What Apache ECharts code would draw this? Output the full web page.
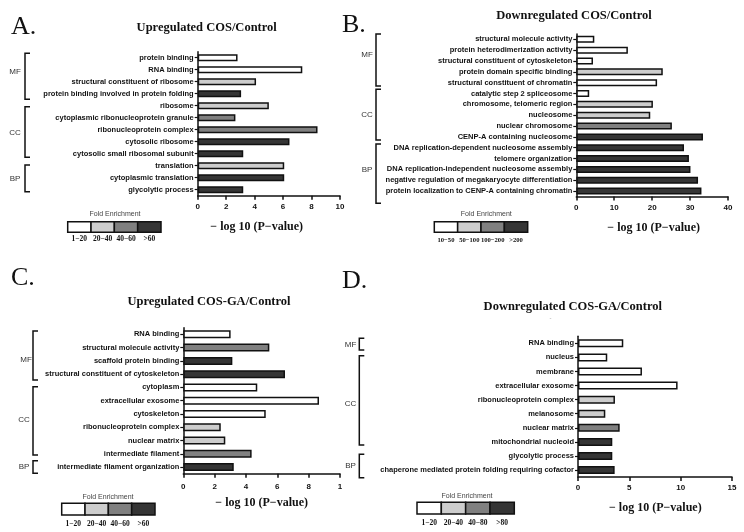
<!DOCTYPE html>
<html>
<head>
<meta charset="utf-8">
<script src="https://cdn.jsdelivr.net/npm/echarts@6/dist/echarts.min.js"></script>
<style>
html,body{margin:0;padding:0;background:#fff;}
#chart{width:744px;height:532px;}
</style>
</head>
<body>
<div id="chart"></div>
<script>
// ---------- DATA ----------
const aCats = ['protein binding','RNA binding','structural constituent of ribosome','protein binding involved in protein folding','ribosome','cytoplasmic ribonucleoprotein granule','ribonucleoprotein complex','cytosolic ribosome','cytosolic small ribosomal subunit','translation','cytoplasmic translation','glycolytic process'];
const aVals = [2.8, 7.35, 4.1, 3.05, 5.0, 2.65, 8.42, 6.45, 3.2, 6.08, 6.08, 3.2];
const aLevels = [0,0,1,3,1,2,2,3,3,1,3,3];

const bCats = ['structural molecule activity','protein heterodimerization activity','structural constituent of cytoskeleton','protein domain specific binding','structural constituent of chromatin','catalytic step 2 spliceosome','chromosome, telomeric region','nucleosome','nuclear chromosome','CENP-A containing nucleosome','DNA replication-dependent nucleosome assembly','telomere organization','DNA replication-independent nucleosome assembly','negative regulation of megakaryocyte differentiation','protein localization to CENP-A containing chromatin'];
const bVals = [4.75, 13.6, 4.4, 22.8, 21.3, 3.4, 20.2, 19.5, 25.2, 33.4, 28.4, 29.7, 30.1, 32.1, 33.0];
const bLevels = [0,0,0,1,0,0,1,1,2,3,3,3,3,3,3];

const cCats = ['RNA binding','structural molecule activity','scaffold protein binding','structural constituent of cytoskeleton','cytoplasm','extracellular exosome','cytoskeleton','ribonucleoprotein complex','nuclear matrix','intermediate filament','intermediate filament organization'];
const cVals = [3.02, 5.49, 3.13, 6.49, 4.72, 8.66, 5.26, 2.39, 2.68, 4.36, 3.22];
const cLevels = [0,2,3,3,0,0,0,1,1,2,3];

const dCats = ['RNA binding','nucleus','membrane','extracellular exosome','ribonucleoprotein complex','melanosome','nuclear matrix','mitochondrial nucleoid','glycolytic process','chaperone mediated protein folding requiring cofactor'];
const dVals = [4.41, 2.85, 6.23, 9.7, 3.6, 2.66, 4.06, 3.34, 3.34, 3.57];
const dLevels = [0,0,0,0,1,1,2,3,3,3];

const aAxis = {max: 10, interval: 2};
const bAxis = {max: 40, interval: 10};
const cAxis = {max: 10, interval: 2};
const dAxis = {max: 15, interval: 5};

const aLegend = ['1\u221220','20\u221240','40\u221260','>60'];
const bLegend = ['10\u221250','50\u2212100','100\u2212200','>200'];
const cLegend = ['1\u221220','20\u221240','40\u221260','>60'];
const dLegend = ['1\u221220','20\u221240','40\u221280','>80'];

const titles = ['Upregulated COS/Control','Downregulated COS/Control','Upregulated COS-GA/Control','Downregulated COS-GA/Control'];
const letters = ['A.','B.','C.','D.'];
const groupNames = ['MF','CC','BP'];
const axisTitle = '\u2212 log 10 (P\u2212value)';
const legendTitle = 'Fold Enrichment';

// ---------- STYLE ----------
const levelColors = ['#ffffff','#cdcdcd','#808080','#353535'];
const SANS = 'Liberation Sans, Arial, sans-serif';
const SERIF = 'Liberation Serif, Times New Roman, serif';

const panels = [
  {cats:aCats, vals:aVals, lv:aLevels, ax:aAxis, grid:{left:197.7, top:51.7, width:142.3, height:144}, bw:7, lm:7},
  {cats:bCats, vals:bVals, lv:bLevels, ax:bAxis, grid:{left:576.3, top:33.9, width:151.7, height:162.6}, bw:7, lm:7},
  {cats:cCats, vals:cVals, lv:cLevels, ax:cAxis, grid:{left:183.3, top:327.7, width:156.7, height:146}, bw:8, lm:9},
  {cats:dCats, vals:dVals, lv:dLevels, ax:dAxis, grid:{left:578, top:336.3, width:154, height:140.8}, bw:8, lm:7}
];

const grids = [], xAxes = [], yAxes = [], series = [];
panels.forEach((p, i) => {
  grids.push(p.grid);
  xAxes.push({
    type:'value', gridIndex:i, min:0, max:p.ax.max, interval:p.ax.interval,
    axisLine:{show:true, lineStyle:{color:'#111', width:1.5}},
    axisTick:{show:true, length:4, lineStyle:{color:'#111', width:1.5}},
    splitLine:{show:false},
    axisLabel:{fontFamily:SANS, fontWeight:'bold', fontSize:8, color:'#111', margin:p.lm,
      formatter: v => (i === 2 && v === 10) ? '1' : String(v)}
  });
  yAxes.push({
    type:'category', gridIndex:i, data:p.cats, inverse:true,
    axisLine:{show:true, lineStyle:{color:'#111', width:1.5}},
    axisTick:{show:true, alignWithLabel:true, length:3, lineStyle:{color:'#111', width:1.2}},
    axisLabel:{fontFamily:SANS, fontWeight:'bold', fontSize:7.5, color:'#111', margin:4, interval:0}
  });
  series.push({
    type:'bar', xAxisIndex:i, yAxisIndex:i, barWidth:p.bw,
    data:p.vals.map((v, k) => ({value:v, itemStyle:{color:levelColors[p.lv[k]]}})),
    itemStyle:{borderColor:'#111', borderWidth:1.5},
    silent:true, animation:false
  });
});

// ---------- DECORATIONS ----------
const g = [];
function txt(x, y, text, font, fill, align) {
  g.push({type:'text', x:x, y:y, silent:true,
    style:{text:text, font:font, fill:fill||'#111', textAlign:align||'center', align:align||'center', textVerticalAlign:'middle', verticalAlign:'middle'}});
}
function bracket(x, y1, y2) {
  g.push({type:'polyline', silent:true,
    shape:{points:[[x+5,y1],[x,y1],[x,y2],[x+5,y2]]},
    style:{stroke:'#111', lineWidth:1.5, fill:null}});
}
function legend(x1, x2, y1, y2, titleX, titleY, labelY, labels, labelSize) {
  txt(titleX, titleY, legendTitle, '7px ' + SANS, '#444');
  const w = (x2 - x1) / 4;
  for (let k = 0; k < 4; k++) {
    g.push({type:'rect', silent:true,
      shape:{x:x1 + k*w, y:y1, width:w, height:y2 - y1},
      style:{fill:levelColors[k], stroke:'#111', lineWidth:1.5}});
    txt(x1 + k*w + w/2, labelY, labels[k], 'bold ' + labelSize + 'px ' + SERIF, '#111');
  }
}

// panel letters
txt(11, 27, letters[0], '26px ' + SERIF, '#111', 'left');
txt(342, 25, letters[1], '26px ' + SERIF, '#111', 'left');
txt(11, 278, letters[2], '26px ' + SERIF, '#111', 'left');
txt(342, 281, letters[3], '26px ' + SERIF, '#111', 'left');

// titles
txt(206.7, 27.3, titles[0], 'bold 12.5px ' + SERIF);
txt(574, 15.7, titles[1], 'bold 12.5px ' + SERIF);
txt(209, 302, titles[2], 'bold 12.5px ' + SERIF);
txt(572.8, 306.7, titles[3], 'bold 12.5px ' + SERIF);
txt(550.5, 318, '-', '6px ' + SANS, '#999');

// axis titles
txt(256.7, 226.7, axisTitle, 'bold 12px ' + SERIF);
txt(653.7, 228.3, axisTitle, 'bold 12px ' + SERIF);
txt(261.7, 503.3, axisTitle, 'bold 12px ' + SERIF);
txt(655.3, 508.3, axisTitle, 'bold 12px ' + SERIF);

// group brackets
const GF = '8px ' + SANS;
// A
bracket(25, 53.3, 99.3); txt(15, 71.7, groupNames[0], GF, '#333');
bracket(25, 106.7, 157.3); txt(15, 132.7, groupNames[1], GF, '#333');
bracket(25, 165, 191.7); txt(15, 178.3, groupNames[2], GF, '#333');
// B
bracket(376, 34, 86); txt(367, 55, groupNames[0], GF, '#333');
bracket(376, 89.3, 140); txt(367, 115, groupNames[1], GF, '#333');
bracket(376, 144, 203.3); txt(367, 169.3, groupNames[2], GF, '#333');
// C
bracket(33, 331, 380); txt(26, 360, groupNames[0], GF, '#333');
bracket(33, 386.7, 455); txt(24, 420, groupNames[1], GF, '#333');
bracket(33, 460.7, 473.3); txt(24, 467, groupNames[2], GF, '#333');
// D
bracket(359.3, 338.3, 350); txt(350.5, 344.3, groupNames[0], GF, '#333');
bracket(359.3, 355.7, 445); txt(350.5, 404, groupNames[1], GF, '#333');
bracket(359.3, 454.3, 477.7); txt(350.5, 465.7, groupNames[2], GF, '#333');

// legends
legend(67.7, 161, 221.7, 232.3, 115, 214, 239.5, aLegend, 7.5);
legend(434.3, 527.7, 221.7, 232.3, 486.3, 214.3, 240, bLegend, 6.6);
legend(61.7, 155, 503.3, 515, 108, 496.7, 524, cLegend, 7.5);
legend(417, 514.3, 502.3, 514, 467, 495.7, 522.7, dLegend, 7.5);

const chart = echarts.init(document.getElementById('chart'), null, {renderer:'canvas'});
chart.setOption({
  backgroundColor:'#fff',
  animation:false,
  grid:grids, xAxis:xAxes, yAxis:yAxes, series:series,
  graphic:g
});
</script>
</body>
</html>
